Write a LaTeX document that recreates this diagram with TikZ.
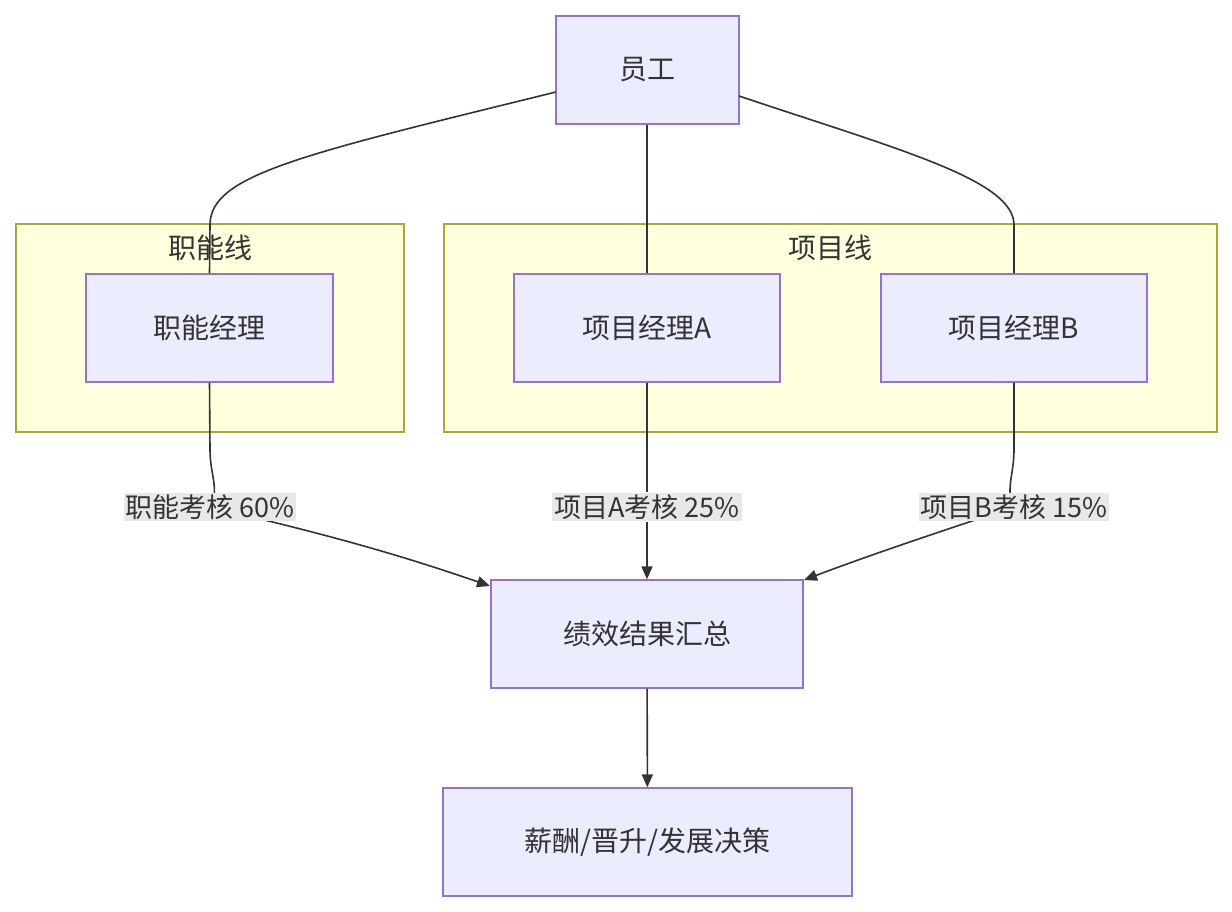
\documentclass[tikz,border=0pt]{standalone}
\usepackage{fontspec}
\setmainfont{Noto Sans CJK SC}
\usetikzlibrary{arrows.meta}
\definecolor{nfill}{HTML}{ECECFF}
\definecolor{nline}{HTML}{9370DB}
\definecolor{cfill}{HTML}{FFFFDE}
\definecolor{cline}{HTML}{AAAA33}
\definecolor{eline}{HTML}{333333}
\definecolor{lbg}{HTML}{E8E8E8}
\begin{document}
\begin{tikzpicture}[x=1pt,y=-1pt,
  box/.style={draw=nline,fill=nfill,line width=1.3pt,inner sep=0pt,font=\fontsize{28}{32}\selectfont,text=eline},
  clus/.style={draw=cline,fill=cfill,line width=1.3pt},
  edge/.style={draw=eline,line width=1.6pt},
  arr/.style={edge,-{Triangle[length=13pt,width=11pt]}},
  lab/.style={fill=lbg,inner sep=2pt,font=\fontsize{27}{30}\selectfont,text=eline}]
\useasboundingbox (0,0) rectangle (1232,912);
\fill[white] (0,0) rectangle (1232,912);
\draw[clus] (16,224) rectangle (404,432);
\draw[clus] (444,224) rectangle (1217,432);
\node[font=\fontsize{28}{32}\selectfont,text=eline] (c1) at (210,248) {职能线};
\node[font=\fontsize{28}{32}\selectfont,text=eline] (c2) at (830,248) {项目线};
\node[box,minimum width=183pt,minimum height=108pt] (emp) at (647.5,70) {员工};
\node[box,minimum width=247pt,minimum height=108pt] (fm) at (209.5,328) {职能经理};
\node[box,minimum width=266pt,minimum height=108pt] (pa) at (647,328) {项目经理A};
\node[box,minimum width=266pt,minimum height=108pt] (pb) at (1014,328) {项目经理B};
\node[box,minimum width=312pt,minimum height=108pt] (res) at (647,634) {绩效结果汇总};
\node[box,minimum width=409pt,minimum height=108pt] (dec) at (647.5,842) {薪酬/晋升/发展决策};
\coordinate (e1) at (556,92);
\coordinate (e2) at (739,96);
\draw[edge] (e1) .. controls (300,155) and (210,175) .. (210,225) -- (fm.north);
\draw[edge] (emp.south -| pa.north) -- (pa.north);
\draw[edge] (e2) .. controls (900,150) and (1014,180) .. (1014,225) -- (pb.north);
\node[lab] (l1) at (210,507) {职能考核 60\%};
\node[lab] (l2) at (647,507) {项目A考核 25\%};
\node[lab] (l3) at (1014,507) {项目B考核 15\%};
\draw[edge] (fm.south) -- (210,450) .. controls (210,475) and (220,490) .. (l1.center);
\draw[arr] (l1.center) .. controls (330,535) and (400,555) .. (490,586);
\draw[edge] (pa.south) -- (l2);
\draw[arr] (l2) -- (res.north);
\draw[edge] (pb.south) -- (1014,450) .. controls (1014,475) and (1005,490) .. (l3.center);
\draw[arr] (l3.center) .. controls (930,535) and (870,555) .. (804,580);
\draw[arr] (res) -- (dec);
\node[lab] at (l1) {职能考核 60\%};
\node[lab] at (l2) {项目A考核 25\%};
\node[lab] at (l3) {项目B考核 15\%};
\end{tikzpicture}
\end{document}
